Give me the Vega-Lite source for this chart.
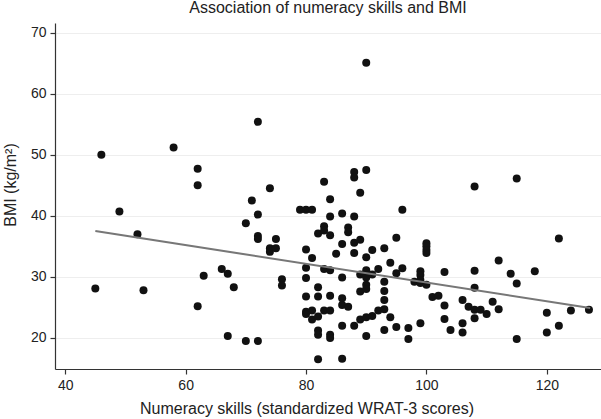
{
  "$schema": "https://vega.github.io/schema/vega-lite/v6.json",
  "width": 546,
  "height": 346,
  "autosize": {"type": "none"},
  "padding": {"left": 55, "top": 23, "right": 0, "bottom": 50},
  "background": "white",
  "title": {
    "text": "Association of numeracy skills and BMI",
    "font": "Liberation Sans",
    "fontSize": 16,
    "fontWeight": "normal",
    "color": "#222",
    "anchor": "middle",
    "offset": 7
  },
  "config": {
    "view": {"stroke": null},
    "axis": {
      "labelFont": "Liberation Sans",
      "titleFont": "Liberation Sans",
      "labelFontSize": 14,
      "titleFontSize": 16,
      "titleFontWeight": "normal",
      "labelColor": "#222",
      "titleColor": "#222",
      "domainColor": "#333",
      "tickColor": "#333",
      "domainWidth": 1.2,
      "tickWidth": 1.2,
      "tickSize": 5
    }
  },
  "layer": [
    {
      "data": {
        "values": [
          {"numeracy": 45, "bmi": 28.1},
          {"numeracy": 46, "bmi": 50.0},
          {"numeracy": 49, "bmi": 40.7},
          {"numeracy": 52, "bmi": 37.0},
          {"numeracy": 53, "bmi": 27.8},
          {"numeracy": 58, "bmi": 51.2},
          {"numeracy": 62, "bmi": 47.7},
          {"numeracy": 62, "bmi": 45.0},
          {"numeracy": 62, "bmi": 25.2},
          {"numeracy": 63, "bmi": 30.2},
          {"numeracy": 66, "bmi": 31.3},
          {"numeracy": 67, "bmi": 30.5},
          {"numeracy": 67, "bmi": 20.3},
          {"numeracy": 68, "bmi": 28.3},
          {"numeracy": 70, "bmi": 38.8},
          {"numeracy": 70, "bmi": 19.5},
          {"numeracy": 71, "bmi": 42.5},
          {"numeracy": 72, "bmi": 55.4},
          {"numeracy": 72, "bmi": 40.2},
          {"numeracy": 72, "bmi": 36.7},
          {"numeracy": 72, "bmi": 36.2},
          {"numeracy": 72, "bmi": 19.5},
          {"numeracy": 74, "bmi": 44.5},
          {"numeracy": 74, "bmi": 34.7},
          {"numeracy": 74, "bmi": 34.1},
          {"numeracy": 75, "bmi": 36.2},
          {"numeracy": 75, "bmi": 34.7},
          {"numeracy": 76, "bmi": 29.6},
          {"numeracy": 76, "bmi": 28.6},
          {"numeracy": 79, "bmi": 41.0},
          {"numeracy": 80, "bmi": 41.0},
          {"numeracy": 80, "bmi": 31.5},
          {"numeracy": 80, "bmi": 29.8},
          {"numeracy": 80, "bmi": 24.3},
          {"numeracy": 80, "bmi": 34.5},
          {"numeracy": 80, "bmi": 26.8},
          {"numeracy": 80, "bmi": 23.9},
          {"numeracy": 81, "bmi": 41.0},
          {"numeracy": 81, "bmi": 33.1},
          {"numeracy": 81, "bmi": 24.5},
          {"numeracy": 81, "bmi": 23.0},
          {"numeracy": 82, "bmi": 37.1},
          {"numeracy": 82, "bmi": 28.3},
          {"numeracy": 82, "bmi": 26.8},
          {"numeracy": 82, "bmi": 23.5},
          {"numeracy": 82, "bmi": 21.2},
          {"numeracy": 82, "bmi": 20.5},
          {"numeracy": 82, "bmi": 16.5},
          {"numeracy": 83, "bmi": 45.6},
          {"numeracy": 83, "bmi": 38.3},
          {"numeracy": 83, "bmi": 37.6},
          {"numeracy": 83, "bmi": 31.3},
          {"numeracy": 83, "bmi": 24.5},
          {"numeracy": 84, "bmi": 42.7},
          {"numeracy": 84, "bmi": 39.9},
          {"numeracy": 84, "bmi": 36.8},
          {"numeracy": 84, "bmi": 31.1},
          {"numeracy": 84, "bmi": 26.9},
          {"numeracy": 84, "bmi": 24.5},
          {"numeracy": 84, "bmi": 20.5},
          {"numeracy": 84, "bmi": 20.0},
          {"numeracy": 85, "bmi": 33.8},
          {"numeracy": 86, "bmi": 40.4},
          {"numeracy": 86, "bmi": 35.4},
          {"numeracy": 86, "bmi": 29.9},
          {"numeracy": 86, "bmi": 26.5},
          {"numeracy": 86, "bmi": 25.4},
          {"numeracy": 86, "bmi": 22.0},
          {"numeracy": 86, "bmi": 16.6},
          {"numeracy": 87, "bmi": 38.1},
          {"numeracy": 87, "bmi": 37.3},
          {"numeracy": 87, "bmi": 25.1},
          {"numeracy": 88, "bmi": 47.2},
          {"numeracy": 88, "bmi": 46.3},
          {"numeracy": 88, "bmi": 39.9},
          {"numeracy": 88, "bmi": 35.6},
          {"numeracy": 88, "bmi": 33.9},
          {"numeracy": 88, "bmi": 22.0},
          {"numeracy": 89, "bmi": 43.8},
          {"numeracy": 89, "bmi": 36.1},
          {"numeracy": 89, "bmi": 30.4},
          {"numeracy": 89, "bmi": 27.6},
          {"numeracy": 89, "bmi": 23.0},
          {"numeracy": 90, "bmi": 65.1},
          {"numeracy": 90, "bmi": 47.5},
          {"numeracy": 90, "bmi": 33.2},
          {"numeracy": 90, "bmi": 31.1},
          {"numeracy": 90, "bmi": 29.9},
          {"numeracy": 90, "bmi": 28.7},
          {"numeracy": 90, "bmi": 28.0},
          {"numeracy": 90, "bmi": 23.4},
          {"numeracy": 90, "bmi": 20.3},
          {"numeracy": 91, "bmi": 34.4},
          {"numeracy": 91, "bmi": 30.4},
          {"numeracy": 91, "bmi": 23.6},
          {"numeracy": 92, "bmi": 31.3},
          {"numeracy": 92, "bmi": 24.5},
          {"numeracy": 93, "bmi": 34.7},
          {"numeracy": 93, "bmi": 29.2},
          {"numeracy": 93, "bmi": 27.7},
          {"numeracy": 93, "bmi": 26.2},
          {"numeracy": 93, "bmi": 24.7},
          {"numeracy": 93, "bmi": 21.3},
          {"numeracy": 94, "bmi": 32.3},
          {"numeracy": 94, "bmi": 23.4},
          {"numeracy": 95, "bmi": 36.4},
          {"numeracy": 95, "bmi": 30.6},
          {"numeracy": 95, "bmi": 21.8},
          {"numeracy": 96, "bmi": 41.0},
          {"numeracy": 96, "bmi": 31.4},
          {"numeracy": 97, "bmi": 21.6},
          {"numeracy": 97, "bmi": 19.8},
          {"numeracy": 98, "bmi": 29.2},
          {"numeracy": 99, "bmi": 30.9},
          {"numeracy": 99, "bmi": 30.3},
          {"numeracy": 99, "bmi": 29.5},
          {"numeracy": 99, "bmi": 29.0},
          {"numeracy": 99, "bmi": 22.4},
          {"numeracy": 100, "bmi": 35.5},
          {"numeracy": 100, "bmi": 35.0},
          {"numeracy": 100, "bmi": 34.4},
          {"numeracy": 100, "bmi": 33.9},
          {"numeracy": 100, "bmi": 28.7},
          {"numeracy": 101, "bmi": 26.7},
          {"numeracy": 102, "bmi": 26.9},
          {"numeracy": 103, "bmi": 30.8},
          {"numeracy": 103, "bmi": 25.3},
          {"numeracy": 103, "bmi": 23.1},
          {"numeracy": 104, "bmi": 21.3},
          {"numeracy": 106, "bmi": 26.2},
          {"numeracy": 106, "bmi": 22.4},
          {"numeracy": 106, "bmi": 20.9},
          {"numeracy": 107, "bmi": 25.1},
          {"numeracy": 108, "bmi": 44.8},
          {"numeracy": 108, "bmi": 31.0},
          {"numeracy": 108, "bmi": 28.2},
          {"numeracy": 108, "bmi": 24.6},
          {"numeracy": 108, "bmi": 23.2},
          {"numeracy": 109, "bmi": 24.6},
          {"numeracy": 110, "bmi": 23.9},
          {"numeracy": 111, "bmi": 25.9},
          {"numeracy": 112, "bmi": 32.7},
          {"numeracy": 112, "bmi": 24.7},
          {"numeracy": 114, "bmi": 30.5},
          {"numeracy": 115, "bmi": 46.1},
          {"numeracy": 115, "bmi": 28.9},
          {"numeracy": 115, "bmi": 19.8},
          {"numeracy": 118, "bmi": 30.9},
          {"numeracy": 120, "bmi": 24.1},
          {"numeracy": 120, "bmi": 20.9},
          {"numeracy": 122, "bmi": 36.3},
          {"numeracy": 122, "bmi": 22.0},
          {"numeracy": 124, "bmi": 24.5},
          {"numeracy": 127, "bmi": 24.6}
        ]
      },
      "mark": {"type": "circle", "size": 64, "opacity": 1, "color": "#111"},
      "encoding": {
        "x": {
          "field": "numeracy",
          "type": "quantitative",
          "scale": {"domain": [38.3, 129], "nice": false, "zero": false},
          "axis": {
            "values": [40, 60, 80, 100, 120],
            "title": "Numeracy skills (standardized WRAT-3 scores)",
            "grid": false,
            "labelPadding": 4,
            "titleX": 251.5,
            "titleY": 44,
            "titleBaseline": "alphabetic"
          }
        },
        "y": {
          "field": "bmi",
          "type": "quantitative",
          "scale": {"domain": [14.9, 71.6], "nice": false, "zero": false},
          "axis": {
            "values": [20, 30, 40, 50, 60, 70],
            "title": "BMI (kg/m²)",
            "grid": true,
            "gridColor": "#eeeeee",
            "gridWidth": 1,
            "labelPadding": 4,
            "titleX": -40,
            "titleY": 161.5,
            "titleBaseline": "alphabetic"
          }
        }
      }
    },
    {
      "data": {
        "values": [
          {"numeracy": 45, "fit": 37.5},
          {"numeracy": 127.2, "fit": 24.9}
        ]
      },
      "mark": {"type": "line", "color": "#777777", "strokeWidth": 2},
      "encoding": {
        "x": {"field": "numeracy", "type": "quantitative"},
        "y": {"field": "fit", "type": "quantitative"}
      }
    }
  ]
}
